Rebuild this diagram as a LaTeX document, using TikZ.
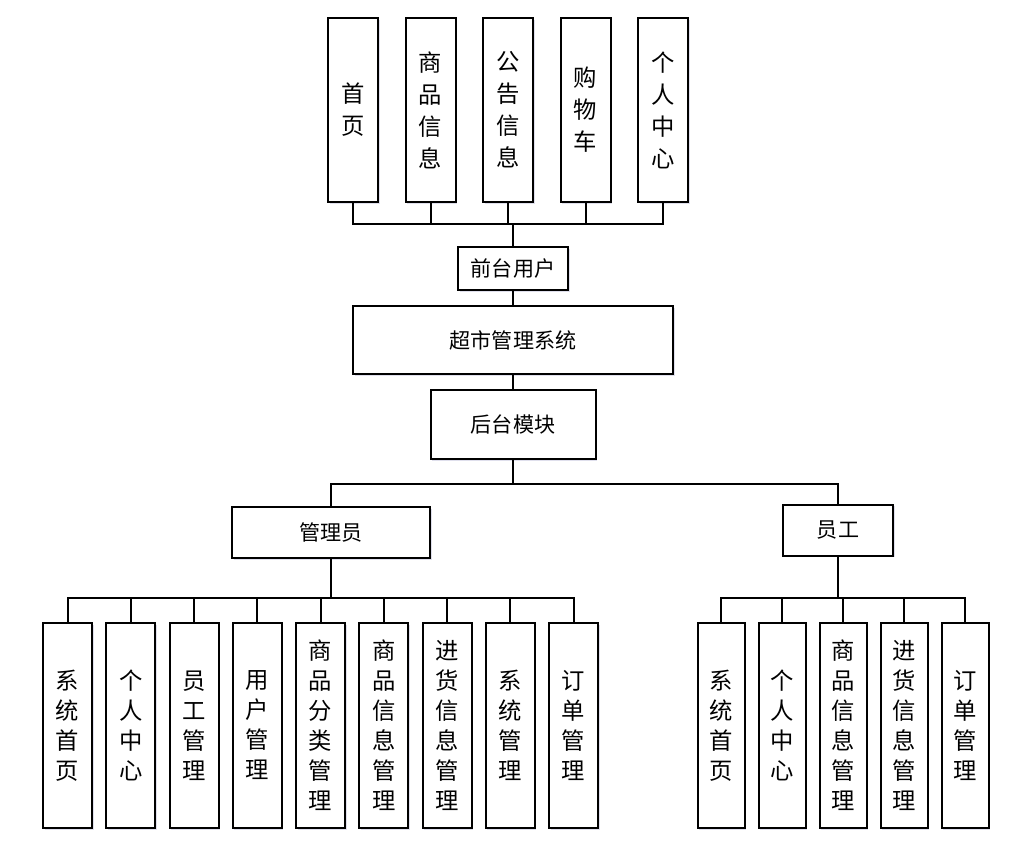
\documentclass[tikz,border=0pt]{standalone}
\usepackage{fontspec}
\setmainfont{Noto Sans CJK SC}
\usetikzlibrary{shadows}

\tikzset{
  box/.style={draw, line width=1.5pt, fill=white, inner sep=0pt,
    drop shadow={shadow xshift=1.2pt, shadow yshift=-1.2pt, fill=blue!25!gray, opacity=0.2}},
  hbox/.style={box, font=\fontsize{15.8}{18}\selectfont},
  vbox/.style={box, align=center, font=\fontsize{17.5}{22.5}\selectfont},
  link/.style={line width=1.5pt},
}

\begin{document}
\begin{tikzpicture}[x=0.75pt, y=-0.75pt]

    % --- Canvas (pixel grid of the page) ---
    \useasboundingbox (0,0) rectangle (1028,852);

    % --- Adjustable parameters ---
    \def\topY{110}     % centre of front-end boxes
    \def\lowY{725.5}   % centre of back-end boxes

    % --- Main column ---
    \node[hbox, minimum width=82.5pt, minimum height=32.25pt] (front) at (513,268.5) {前台用户};
    \node[hbox, minimum width=240pt, minimum height=51pt] (system) at (513,340) {超市管理系统};
    \node[hbox, minimum width=123.75pt, minimum height=51.75pt] (back) at (513,424.5) {后台模块};
    \node[hbox, minimum width=148.5pt, minimum height=38.25pt] (admin) at (331,532.5) {管理员};
    \node[hbox, minimum width=82.5pt, minimum height=38.25pt] (staff) at (838,530) {员工};

    % --- Bus points ---
    \coordinate (topbus) at (513,224);
    \coordinate (backbus) at (513,484);
    \coordinate (adminbus) at (331,598);
    \coordinate (staffbus) at (838,598);

    % --- Front-end modules ---
    \foreach \lbl [count=\i from 0] in {{首\\页},{商\\品\\信\\息},{公\\告\\信\\息},{购\\物\\车},{个\\人\\中\\心}}
      \node[vbox, font=\fontsize{17.5}{24}\selectfont, minimum width=37.5pt, minimum height=138pt]
        (f\i) at (353+77.5*\i,\topY) {\lbl};

    % --- Administrator modules ---
    \foreach \lbl [count=\i from 0] in {{系\\统\\首\\页},{个\\人\\中\\心},{员\\工\\管\\理},{用\\户\\管\\理},
        {商\\品\\分\\类\\管\\理},{商\\品\\信\\息\\管\\理},{进\\货\\信\\息\\管\\理},{系\\统\\管\\理},{订\\单\\管\\理}}
      \node[vbox, minimum width=36.75pt, minimum height=153.75pt]
        (a\i) at (67.5+63.25*\i,\lowY) {\lbl};

    % --- Staff modules ---
    \foreach \lbl [count=\i from 0] in {{系\\统\\首\\页},{个\\人\\中\\心},{商\\品\\信\\息\\管\\理},
        {进\\货\\信\\息\\管\\理},{订\\单\\管\\理}}
      \node[vbox, minimum width=35.25pt, minimum height=153.75pt]
        (s\i) at (721+61*\i,\lowY) {\lbl};

    % --- Connectors ---
    \foreach \i in {0,...,4} \draw[link] (f\i.south) |- (topbus);
    \draw[link] (front.north) -- (topbus);
    \draw[link] (front.south) -- (system.north);
    \draw[link] (system.south) -- (back.north);
    \draw[link] (back.south) -- (backbus);
    \draw[link] (admin.north) |- (backbus);
    \draw[link] (staff.north) |- (backbus);
    \draw[link] (admin.south) -- (adminbus);
    \draw[link] (staff.south) -- (staffbus);
    \foreach \i in {0,...,8} \draw[link] (a\i.north) |- (adminbus);
    \foreach \i in {0,...,4} \draw[link] (s\i.north) |- (staffbus);

\end{tikzpicture}
\end{document}
